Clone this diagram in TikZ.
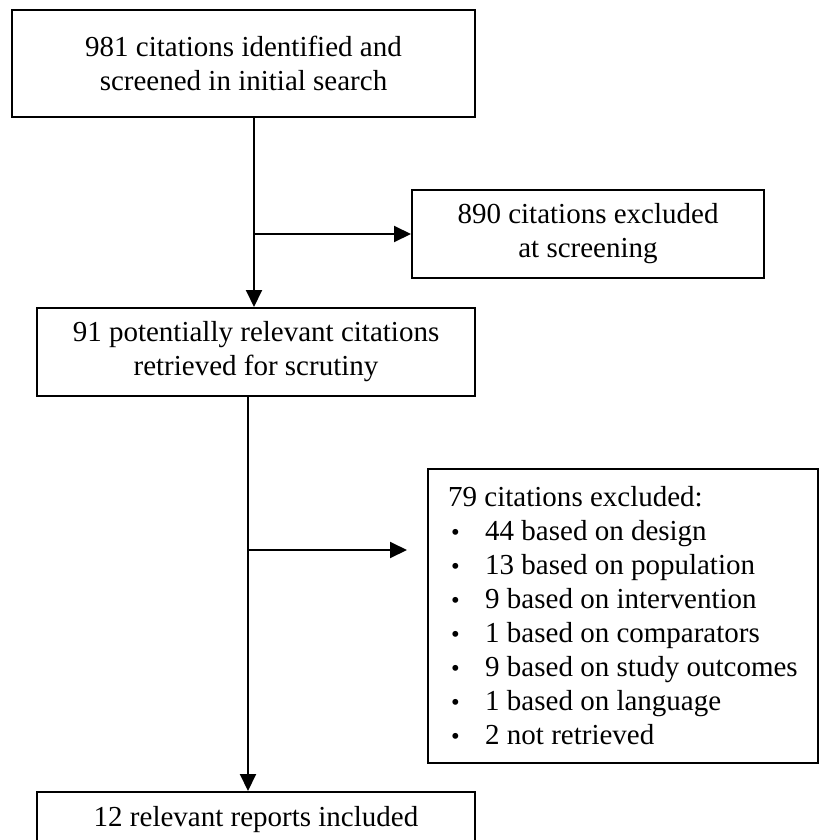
\documentclass[tikz,border=0pt]{standalone}
\usepackage{fontspec}
\setmainfont{Liberation Serif}
\usetikzlibrary{arrows.meta,positioning}
\tikzset{
    flowBox/.style={
        draw,
        line width=2pt,
        align=center,
        inner sep=0pt,
        font=\fontsize{29}{34}\selectfont
    },
    flowArrow/.style={
        -{Triangle[length=17pt,width=16pt]},
        line width=2pt
    }
}
\newcommand{\flowBullet}{\makebox[37pt][l]{\hspace{3pt}\scalebox{0.85}{\textbullet}}}

\begin{document}
\begin{tikzpicture}[x=1pt,y=-1pt]
    \useasboundingbox (0,0) rectangle (822,840);

    \node[flowBox,minimum width=463pt,minimum height=107pt] (search) at (243.5,63.5) {981 citations identified and\\screened in initial search};
    \node[flowBox,minimum width=352pt,minimum height=88pt] (excluded1) at (588,234) {890 citations excluded\\at screening};
    \node[flowBox,minimum width=438pt,minimum height=88pt] (retrieved) at (256,352) {91 potentially relevant citations\\retrieved for scrutiny};
    \node[flowBox,align=left,anchor=north west,minimum width=390pt,minimum height=294pt] (excluded2) at (427,468) {79 citations excluded:\\
        \flowBullet 44 based on design\\
        \flowBullet 13 based on population\\
        \flowBullet 9 based on intervention\\
        \flowBullet 1 based on comparators\\
        \flowBullet 9 based on study outcomes\\
        \flowBullet 1 based on language\\
        \flowBullet 2 not retrieved};
    \node[flowBox,anchor=north,minimum width=438pt,minimum height=56pt] (included) at (256,791) {12 relevant reports included};

    % free end of the second branch stops short of the box
    \coordinate (gap) at ([xshift=-20pt]excluded2.west |- 0,550);

    \draw[flowArrow] ([xshift=-2pt]search.south -| retrieved.north) -- ([xshift=-2pt]retrieved.north);
    \draw[flowArrow] ([xshift=-2pt]excluded1.west -| retrieved.north) -- (excluded1.west);
    \draw[flowArrow] ([xshift=-8pt]retrieved.south) -- ([xshift=-8pt]retrieved.south |- included.north);
    \draw[flowArrow] ([xshift=-8pt]retrieved.south |- gap) -- (gap);
\end{tikzpicture}
\end{document}
